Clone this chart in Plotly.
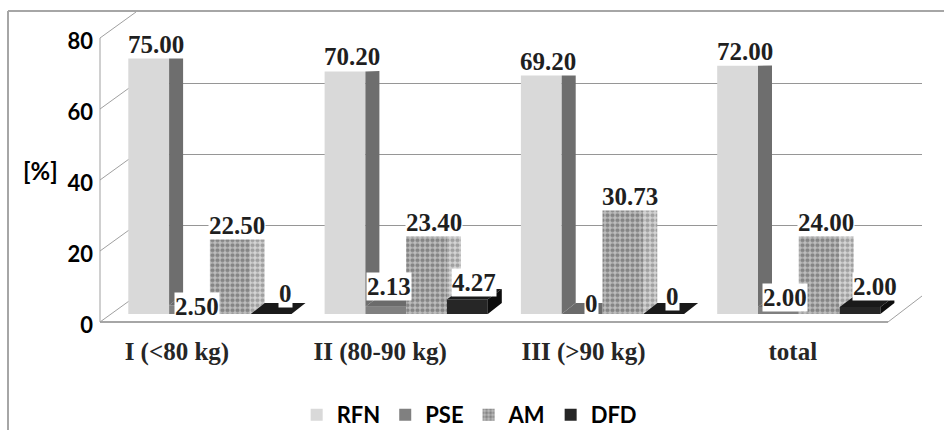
import plotly.graph_objects as go

# ---------------- data ----------------
categories = ["I (<80 kg)", "II (80-90 kg)", "III (>90 kg)", "total"]
series_names = ["RFN", "PSE", "AM", "DFD"]
rfn = [75.00, 70.20, 69.20, 72.00]
pse = [2.50, 2.13, 0, 2.00]
am = [22.50, 23.40, 30.73, 24.00]
dfd = [0, 4.27, 0, 2.00]
y_ticks = [0, 20, 40, 60, 80]
y_title = "[%]"

series = [rfn, pse, am, dfd]

# ---------------- styles ----------------
front_col = ["#d9d9d9", "#808080", "#b0b0b0", "#262626"]
side_col = ["#6e6e6e", "#5e5e5e", "#cfcfcf", "#0d0d0d"]
top_col = ["#c8c8c8", "#6b6b6b", "#c4c4c4", "#1a1a1a"]
# label offsets (pixels, up) and horizontal nudges per series per group
lab_up = [[10.5, 14.6, 13.6, 14], [-1, 20, 11, 10], [11, 10.7, 11, 8.5], [20.5, 16.3, 18, 21]]
lab_dx = [[0, 0, 0, 0], [0, -4, 2, 0], [0, 0, 0, 0], [7, 0, 2, 8]]
cat_shift_px = [-33, -26, -19, -6]

W, H = 944, 430
def pxf(p):
    return p / W
def pyf(p):
    return 1 - p / H

# bar plane geometry (pixels)
BASE_PX = 314.0
KY = 3.453          # px per unit
STEP = 196.3        # px per category
X0 = 209.9          # px of category 0 center
WBAR = 40.8
DX_PX = 14.0
DY0_PX = 11.0
EYE = 75.0
# walls
BACK_BASE, FRONT_BASE, KB = 296.0, 322.0, 3.55
XL_FRONT, XL_BACK, XR_BACK, XR_FRONT = 100.0, 136.0, 922.0, 888.0

w = WBAR / STEP
dx = DX_PX / STEP
def dy(v):
    return DY0_PX * (1 - v / EYE) / KY

AM_PATTERN = dict(shape=".", fillmode="replace", fgcolor="#858585",
                  bgcolor="#bdbdbd", size=5, solidity=0.55)

fig = go.Figure()

# bars (front faces)
for j, (name, vals) in enumerate(zip(series_names, series)):
    marker = dict(color=front_col[j], line=dict(width=0))
    if name == "AM":
        marker["pattern"] = AM_PATTERN
    fig.add_trace(go.Bar(x=list(range(len(categories))), y=vals, name=name,
                         marker=marker, xaxis="x3", yaxis="y3", hoverinfo="skip"))

# side and top faces derived from the values
for j, vals in enumerate(series):
    sx, sy, tx, ty = [], [], [], []
    for i, v in enumerate(vals):
        xl = i + (j - 2) * w
        xr = xl + w
        nxt = series[j + 1][i] if j < len(series) - 1 else 0
        bottom = nxt if j < len(series) - 1 else 0
        if bottom < v:
            sx += [xr, xr, xr + dx, xr + dx, xr, None]
            sy += [bottom, v, v + dy(v), bottom + dy(bottom), bottom, None]
        if j < len(series) - 1 and nxt > v:
            tx += [xl, xr, xr, xl + dx, xl, None]
            ty += [v, v, v + dy(v), v + dy(v), v, None]
        else:
            tx += [xl, xr, xr + dx, xl + dx, xl, None]
            ty += [v, v, v + dy(v), v + dy(v), v, None]
    for (xx, yy, col) in [(sx, sy, side_col[j]), (tx, ty, top_col[j])]:
        kw = dict(x=xx, y=yy, mode="lines", fill="toself", fillcolor=col,
                  line=dict(width=0, color=col), showlegend=False, hoverinfo="skip",
                  xaxis="x3", yaxis="y3")
        if series_names[j] == "AM":
            kw["fillpattern"] = dict(shape=".", fillmode="replace", fgcolor="#a0a0a0",
                                     bgcolor="#d4d4d4", size=5, solidity=0.55)
        fig.add_trace(go.Scatter(**kw))

# dummy traces for wall subplot and front axis subplot
fig.add_trace(go.Scatter(x=[0], y=[0], mode="markers", marker=dict(opacity=0),
                         showlegend=False, hoverinfo="skip", xaxis="x", yaxis="y"))
fig.add_trace(go.Scatter(x=[0], y=[0], mode="markers", marker=dict(opacity=0),
                         showlegend=False, hoverinfo="skip", xaxis="x2", yaxis="y2"))

# data labels
annotations = []
for j, vals in enumerate(series):
    for i, v in enumerate(vals):
        txt = "0" if v == 0 else f"{v:.2f}"
        annotations.append(dict(
            x=i + (j - 1.5) * w + dx / 2, y=v, xref="x3", yref="y3", text=txt,
            showarrow=False, yanchor="middle", xanchor="center",
            yshift=lab_up[j][i], xshift=lab_dx[j][i], bgcolor="white", borderpad=0,
            font=dict(family="Liberation Serif", size=25, color="#1f1f1f", weight="bold")))
annotations.append(dict(x=pxf(40), y=pyf(170), xref="paper", yref="paper", text=y_title,
                        showarrow=False, xanchor="center", yanchor="middle",
                        font=dict(family="Lato", size=24, color="black", weight="bold")))

# frame lines
def line(x0, y0, x1, y1, color="#a0a0a0", width=1):
    return dict(type="line", xref="paper", yref="paper", x0=pxf(x0), y0=pyf(y0),
                x1=pxf(x1), y1=pyf(y1), line=dict(color=color, width=width), layer="below")

shapes = [
    line(8, 11, 960, 11, "#a6a6a6", 2),
    line(8, 11, 8, 450, "#a6a6a6", 2),
    line(XL_FRONT, FRONT_BASE - 80 * KB, XL_FRONT, FRONT_BASE, "#a0a0a0", 1),
    line(XL_FRONT, FRONT_BASE, XR_FRONT, FRONT_BASE, "#a6a6a6", 2),
    line(XR_FRONT, FRONT_BASE, XR_BACK, BACK_BASE, "#a0a0a0", 1),
]
for t in y_ticks:
    shapes.append(line(XL_FRONT, FRONT_BASE - KB * t, XL_BACK, BACK_BASE - KB * t, "#a0a0a0", 1))

fig.update_layout(
    width=W, height=H, margin=dict(l=0, r=0, t=0, b=0, autoexpand=False),
    paper_bgcolor="white", plot_bgcolor="rgba(0,0,0,0)",
    barmode="group", bargap=1 - 4 * w, bargroupgap=0,
    showlegend=True,
    legend=dict(orientation="h", x=0.497, xanchor="center", y=pyf(415), yanchor="middle",
                font=dict(family="Lato", size=22, color="black", weight="bold"),
                bgcolor="rgba(0,0,0,0)", itemwidth=30),
    annotations=annotations, shapes=shapes,
    # back wall gridlines
    xaxis=dict(domain=[pxf(XL_BACK), pxf(XR_BACK)], range=[0, 1], visible=False),
    yaxis=dict(domain=[pyf(BACK_BASE), pyf(BACK_BASE - 80 * KB)], range=[0, 80],
               tickvals=y_ticks, showticklabels=False, ticks="", showgrid=True,
               gridcolor="#969696", gridwidth=1, zeroline=False, showline=False, anchor="x"),
    # front axis tick labels
    xaxis2=dict(domain=[pxf(XL_FRONT), pxf(XL_FRONT + 10)], range=[0, 1], visible=False,
                anchor="y2"),
    yaxis2=dict(domain=[pyf(FRONT_BASE + 3), pyf(FRONT_BASE + 3 - 80 * KB)], range=[0, 80],
                tickvals=y_ticks, showgrid=False, zeroline=False, showline=False, ticks="",
                ticklabelstandoff=6, anchor="x2",
                tickfont=dict(family="Lato", size=22, color="black", weight="bold")),
    # bar plane
    xaxis3=dict(domain=[pxf(100), pxf(922)],
                range=[(100 - X0) / STEP, (922 - X0) / STEP],
                tickvals=[i + s / STEP for i, s in enumerate(cat_shift_px)],
                ticktext=categories, showgrid=False, zeroline=False, showline=False,
                ticks="", ticklabelstandoff=20, anchor="y3",
                tickfont=dict(family="Liberation Serif", size=25, color="#262626", weight="bold")),
    yaxis3=dict(domain=[pyf(BASE_PX), pyf(BASE_PX - 80 * KY)], range=[0, 80],
                visible=False, anchor="x3"),
)

fig.write_html("out.html")
